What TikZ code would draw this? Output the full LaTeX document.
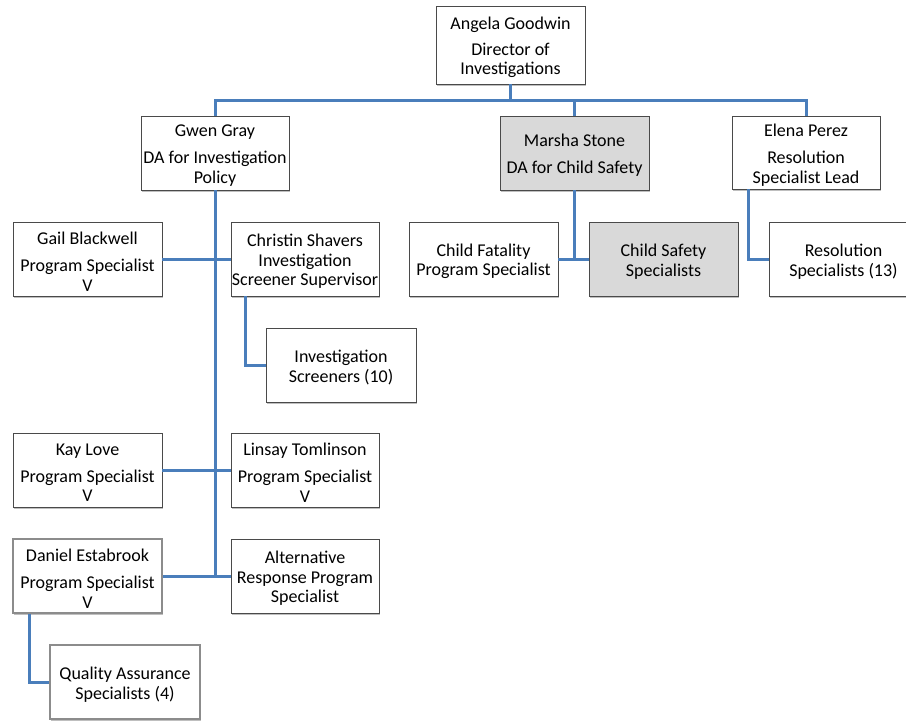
\documentclass[tikz,border=0pt]{standalone}
\usepackage{fontspec}
\setmainfont{Carlito}
\usetikzlibrary{shadows}
\definecolor{connblue}{HTML}{4A7EBB}
\definecolor{boxgray}{HTML}{D9D9D9}
\definecolor{boxline}{HTML}{4A4A4A}
\definecolor{thickline}{HTML}{8C8C8C}
\tikzset{
  orgbox/.style={draw=boxline, line width=0.8pt, fill=white, minimum width=149pt, minimum height=74pt,
    inner sep=0pt,
    drop shadow={shadow xshift=1.2pt, shadow yshift=-1.5pt, opacity=0.25, fill=black}},
  orgtext/.style={align=center, inner sep=0pt, font=\fontsize{18}{19.5}\selectfont},
  grayfill/.style={fill=boxgray},
  heavybox/.style={draw=thickline, line width=2.2pt},
  conn/.style={draw=connblue, line width=3pt}
}
\newcommand{\orgnode}[4][]{%
  \node[orgbox,#1] (#2) at (#3) {};
  \node[orgtext] (#2-t) at ([yshift=-2.5pt]#2.center) {#4};}
\begin{document}
\begin{tikzpicture}[x=1pt,y=-1pt]
\useasboundingbox (0,0) rectangle (906,721);
\clip (0,0) rectangle (906,721);
\fill[white] (0,0) rectangle (906,721);
\coordinate (bus) at (0,100);

\orgnode[minimum height=78pt]{angela}{510.5,45}{Angela Goodwin\\[6pt]Director of\\Investigations}
\orgnode[minimum width=148pt]{gwen}{215,153}{Gwen Gray\\[7.5pt]DA for Investigation\\Policy}
\orgnode[grayfill]{marsha}{574.5,153}{Marsha Stone\\[7.5pt]DA for Child Safety}
\orgnode[minimum width=148pt, minimum height=73pt]{elena}{806,152.5}{Elena Perez\\[7.5pt]Resolution\\Specialist Lead}

\orgnode{gail}{87.5,259}{Gail Blackwell\\[7.5pt]Program Specialist\\V}
\orgnode[minimum width=148pt]{christin}{305,259}{Christin Shavers\\Investigation\\Screener Supervisor}
\orgnode{childfat}{483.5,259}{Child Fatality\\Program Specialist}
\orgnode[grayfill]{childsafe}{663.5,259}{Child Safety\\Specialists}
\orgnode{resspec}{843.5,259}{Resolution\\Specialists (13)}

\orgnode[minimum width=150pt]{invscr}{341,365}{Investigation\\Screeners (10)}

\orgnode{kay}{87.5,470}{Kay Love\\[7.5pt]Program Specialist\\V}
\orgnode[minimum width=148pt]{linsay}{305,470}{Linsay Tomlinson\\[7.5pt]Program Specialist\\V}

\orgnode[heavybox]{daniel}{87.5,576}{Daniel Estabrook\\[7.5pt]Program Specialist\\V}
\orgnode[minimum width=148pt]{alt}{305,576}{Alternative\\Response Program\\Specialist}

\orgnode[heavybox, minimum width=150pt]{qa}{125,682}{Quality Assurance\\Specialists (4)}

% connectors
\draw[conn] (angela.south) -- (angela.south |- bus);
\draw[conn] (gwen.north) -- (gwen.north |- bus) -- (elena.north |- bus) -- (elena.north);
\draw[conn] (marsha.north) -- (marsha.north |- bus);

\draw[conn] (gwen.south) -- (gwen.south |- daniel.east);
\draw[conn] (gail.east) -- (christin.west);
\draw[conn] (kay.east) -- (linsay.west);
\draw[conn] (daniel.east) -- (alt.west);
\draw[conn] ([xshift=-60pt]christin.south) |- (invscr.west);

\draw[conn] (marsha.south) -- (marsha.south |- childfat.east);
\draw[conn] (childfat.east) -- (childsafe.west);
\draw[conn] ([xshift=-58pt]elena.south) |- (resspec.west);

\draw[conn] ([xshift=-58.5pt]daniel.south) |- (qa.west);
\end{tikzpicture}
\end{document}
